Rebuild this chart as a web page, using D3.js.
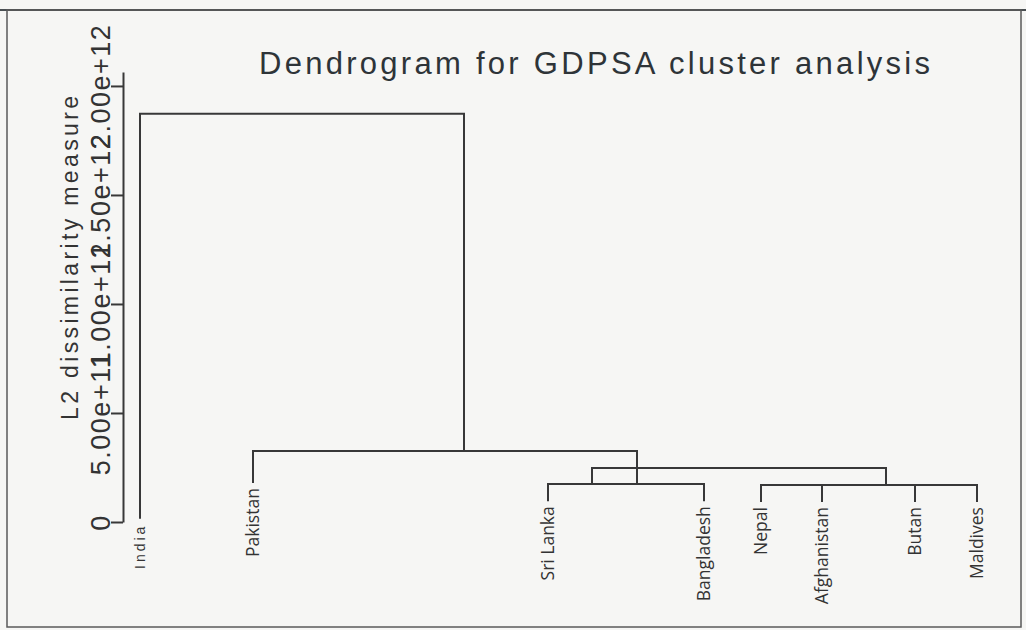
<!DOCTYPE html>
<html>
<head>
<meta charset="utf-8">
<script src="https://cdn.jsdelivr.net/npm/d3@7"></script>
<style>
  html, body { margin: 0; padding: 0; background: #f6f6f4; }
  svg { display: block; }
</style>
</head>
<body>
<svg id="chart" width="1026" height="630"></svg>
<script>
// ---- data ----
const chartTitle = "Dendrogram for GDPSA cluster analysis";
const yAxisTitle = "L2 dissimilarity measure";
const yTicks = [0, 5e11, 1e12, 1.5e12, 2e12];
const yTickLabels = ["0", "5.00e+11", "1.00e+12", "1.50e+12", "2.00e+12"];

const leaves = ["India", "Pakistan", "Sri Lanka", "Bangladesh", "Nepal", "Afghanistan", "Butan", "Maldives"];
// leaf positions along the (uneven) leaf axis
const leafPos = [0, 1.13, 4.08, 5.64, 6.21, 6.82, 7.75, 8.37];
// lowest drawn value of each leaf line
const leafBase = [2e10, 1.83e11, 1.0e11, 1.0e11, 0.96e11, 0.96e11, 0.96e11, 0.96e11];

// merges: dissimilarity at which the join happens, the positions of the joined branches,
// and the value each joined branch rises from
const mergeHeights = [1.872e12, 3.26e11, 2.48e11, 1.74e11, 1.70e11];
const mergeJoinPos = [[0, 3.24], [1.13, 4.97], [4.52, 7.46], [4.08, 5.64], [6.21, 6.82, 7.75, 8.37]];
const mergeJoinBase = [[2e10, 3.26e11], [1.83e11, 1.74e11], [1.74e11, 1.70e11], [1.0e11, 1.0e11], [0.96e11, 0.96e11, 0.96e11, 0.96e11]];

// ---- drawing ----
const svg = d3.select("#chart");
const ink = "#383838";

// page frame (scanned figure border)
svg.append("line").attr("x1", 0).attr("x2", 1026).attr("y1", 10).attr("y2", 10)
  .attr("stroke", "#4a4f52").attr("stroke-width", 2);
svg.append("rect").attr("x", 7).attr("y", 10).attr("width", 1014).attr("height", 617)
  .attr("fill", "none").attr("stroke", "#5a5a5a").attr("stroke-width", 1.5);

const x = d3.scaleLinear().domain([0, 8.37]).range([140, 977]);
const y = d3.scaleLinear().domain([0, 2.064e12]).range([522, 72]);

// title
svg.append("text")
  .attr("x", 259).attr("y", 74)
  .attr("textLength", 671).attr("lengthAdjust", "spacing")
  .style("font-family", "'Liberation Sans', Arial, sans-serif")
  .style("font-size", "31px")
  .attr("fill", "#2e3438")
  .text(chartTitle);

// y axis
const yAxis = d3.axisLeft(y)
  .tickValues(yTicks)
  .tickFormat((d, i) => yTickLabels[i])
  .tickSizeInner(12)
  .tickSizeOuter(0);

const gy = svg.append("g").attr("transform", "translate(123,0)").call(yAxis);
gy.select(".domain").attr("stroke", ink).attr("stroke-width", 2);
gy.selectAll(".tick line").attr("stroke", ink).attr("stroke-width", 2);
gy.selectAll(".tick text")
  .attr("x", null).attr("dy", null)
  .attr("transform", "translate(-13,0) rotate(-90)")
  .attr("text-anchor", "middle")
  .attr("y", 0)
  .attr("fill", "#333")
  .style("font-family", "'Liberation Sans', Arial, sans-serif")
  .style("font-size", "27px")
  .style("letter-spacing", "1.5px");

// y axis title
svg.append("text")
  .attr("transform", "translate(78,258) rotate(-90)")
  .attr("text-anchor", "middle")
  .attr("textLength", 324).attr("lengthAdjust", "spacing")
  .attr("fill", "#333")
  .style("font-family", "'Liberation Sans', Arial, sans-serif")
  .style("font-size", "23px")
  .text(yAxisTitle);

// dendrogram links
const gLinks = svg.append("g")
  .attr("fill", "none").attr("stroke", ink).attr("stroke-width", 2)
  .attr("stroke-linecap", "square");

mergeHeights.forEach((h, i) => {
  const pos = mergeJoinPos[i];
  const base = mergeJoinBase[i];
  const p = d3.path();
  p.moveTo(x(d3.min(pos)), y(h));
  p.lineTo(x(d3.max(pos)), y(h));
  pos.forEach((xp, j) => {
    p.moveTo(x(xp), y(base[j]));
    p.lineTo(x(xp), y(h));
  });
  gLinks.append("path").attr("d", p.toString());
});

// leaf labels
svg.append("g").selectAll("text")
  .data(leaves)
  .join("text")
  .attr("transform", (d, i) => `translate(${x(leafPos[i])},${y(leafBase[i]) + 6}) rotate(-90)`)
  .attr("text-anchor", "end")
  .attr("dy", "0.36em")
  .attr("fill", "#333")
  .style("font-family", (d, i) => i === 0 ? "'Liberation Sans', Arial, sans-serif" : "'Open Sans', sans-serif")
  .style("font-size", (d, i) => i === 0 ? "14px" : "17.5px")
  .style("letter-spacing", (d, i) => i === 0 ? "3px" : "0px")
  .text(d => d);
</script>
</body>
</html>
